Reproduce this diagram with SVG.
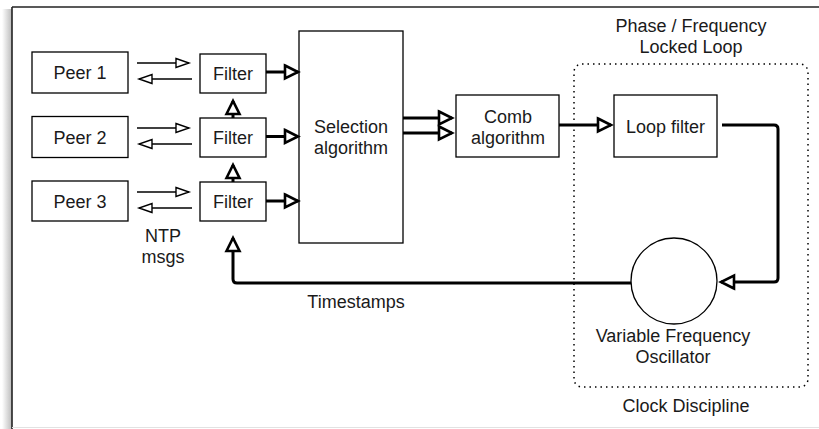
<svg xmlns="http://www.w3.org/2000/svg" width="819" height="429" viewBox="0 0 819 429">
<style>
  .box { fill: #fff; stroke: #000; stroke-width: 1.3; }
  .t { font-family: "Liberation Sans", Arial, sans-serif; font-size: 18px; fill: #1a1a1a; text-anchor: middle; }
  .thin { fill: none; stroke: #000; stroke-width: 1.4; marker-end: url(#ah); }
  .thick { fill: none; stroke: #000; stroke-width: 3; marker-end: url(#AH); stroke-linejoin: round; }
</style>
<defs>
  <marker id="ah" markerUnits="userSpaceOnUse" markerWidth="14" markerHeight="10" refX="13" refY="4.5" orient="auto" style="overflow:visible">
    <path d="M0,0 L13,4.5 L0,9 Z" fill="#fff" stroke="#000" stroke-width="1.4"/>
  </marker>
  <marker id="AH" markerUnits="userSpaceOnUse" markerWidth="16" markerHeight="14" refX="13" refY="6.5" orient="auto" style="overflow:visible">
    <path d="M0,0 L13,6.5 L0,13 Z" fill="#fff" stroke="#000" stroke-width="2.6" stroke-linejoin="miter"/>
  </marker>
  <linearGradient id="sh" x1="0" y1="0" x2="1" y2="0">
    <stop offset="0" stop-color="#fff"/>
    <stop offset="1" stop-color="#bbb"/>
  </linearGradient>
</defs>

<g id="frame">
  <rect x="2" y="9" width="10" height="420" fill="url(#sh)"/>
  <rect x="12" y="7" width="820" height="420" fill="#fff" stroke="none"/>
  <line x1="12" y1="7" x2="819" y2="7" stroke="#222" stroke-width="1.6"/>
  <line x1="12" y1="7" x2="12" y2="429" stroke="#222" stroke-width="1.6"/>
  <line x1="12" y1="427.5" x2="819" y2="427.5" stroke="#e2e2e2" stroke-width="1"/>
</g>

<g id="pll-region">
  <rect x="574" y="64" width="234" height="323" rx="8" fill="none" stroke="#000" stroke-width="1.5" stroke-dasharray="1.5,4"/>
  <text class="t" x="691" y="32">Phase / Frequency</text>
  <text class="t" x="691" y="53">Locked Loop</text>
  <text class="t" x="686" y="412">Clock Discipline</text>
</g>

<g id="peer1"><rect class="box" x="32" y="52" width="96" height="41"/><text class="t" x="80" y="79">Peer 1</text></g>
<g id="peer2"><rect class="box" x="32" y="116.5" width="96" height="41"/><text class="t" x="80" y="143.5">Peer 2</text></g>
<g id="peer3"><rect class="box" x="32" y="181" width="96" height="40"/><text class="t" x="80" y="207.5">Peer 3</text></g>

<g id="filter1"><rect class="box" x="200" y="54" width="66" height="39"/><text class="t" x="233" y="80">Filter</text></g>
<g id="filter2"><rect class="box" x="200" y="118" width="66" height="39"/><text class="t" x="233" y="144">Filter</text></g>
<g id="filter3"><rect class="box" x="200" y="182" width="66" height="39"/><text class="t" x="233" y="208">Filter</text></g>

<g id="selection"><rect class="box" x="299" y="31" width="104" height="212"/><text class="t" x="351" y="133">Selection</text><text class="t" x="351" y="154">algorithm</text></g>
<g id="comb"><rect class="box" x="456" y="95" width="103" height="62"/><text class="t" x="508" y="122.5">Comb</text><text class="t" x="508" y="143.5">algorithm</text></g>
<g id="loopfilter"><rect class="box" x="614" y="95" width="103" height="62"/><text class="t" x="665.5" y="132.5">Loop filter</text></g>
<g id="vfo"><circle cx="674" cy="281" r="43" fill="#fff" stroke="#000" stroke-width="1.3"/><text class="t" x="673" y="342">Variable Frequency</text><text class="t" x="673" y="363">Oscillator</text></g>

<g id="labels">
  <text class="t" x="163" y="242">NTP</text>
  <text class="t" x="163" y="263">msgs</text>
  <text class="t" x="356" y="308">Timestamps</text>
</g>

<g id="connectors">
  <path class="thin" d="M137,63 H189"/>
  <path class="thin" d="M192,79 H139"/>
  <path class="thin" d="M137,128 H189"/>
  <path class="thin" d="M192,144 H139"/>
  <path class="thin" d="M137,192 H189"/>
  <path class="thin" d="M192,208 H139"/>

  <path class="thick" d="M266,72 H298"/>
  <path class="thick" d="M266,136.5 H298"/>
  <path class="thick" d="M266,201 H298"/>

  <path class="thick" d="M233,118 V101"/>
  <path class="thick" d="M233,182 V165"/>

  <path class="thick" d="M403,118 H452"/>
  <path class="thick" d="M403,133 H452"/>
  <path class="thick" d="M559,125 H611"/>

  <path class="thick" d="M722,125 H774 Q778,125 778,129 V278 Q778,282 774,282 H721"/>
  <path class="thick" d="M631,283 H237 Q233,283 233,279 V238"/>
</g>
</svg>
